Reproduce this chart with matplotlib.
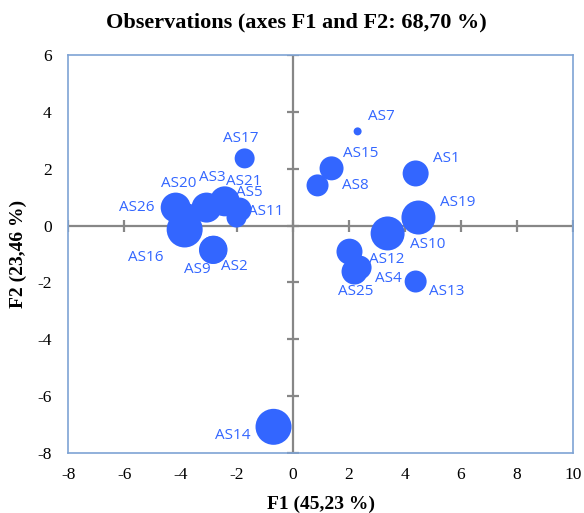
import matplotlib
matplotlib.use('Agg')
import matplotlib.pyplot as plt
import numpy as np

plt.rcParams['axes.unicode_minus'] = False

# observation coordinates on F1/F2 and bubble radius (px)
labels = ['AS1', 'AS2', 'AS3', 'AS4', 'AS5', 'AS7', 'AS8', 'AS9', 'AS10', 'AS11',
          'AS12', 'AS13', 'AS14', 'AS15', 'AS16', 'AS17', 'AS19', 'AS20', 'AS21',
          'AS25', 'AS26']
f1 = [4.39, -2.82, -3.07, 2.39, -1.89, 2.32, 0.89, -2.84, 3.39, -2.0,
      2.03, 4.39, -0.68, 1.39, -3.85, -1.71, 4.49, -3.75, -2.42, 2.21, -4.17]
f2 = [1.83, -0.85, 0.63, -1.48, 0.56, 3.31, 1.41, -0.86, -0.28, 0.28,
      -0.92, -1.97, -7.08, 2.01, -0.14, 2.36, 0.28, 0.35, 0.85, -1.62, 0.63]
radius = [13, 14, 15, 12, 12, 4, 11, 14, 17, 10,
          13, 11, 18, 12, 18, 10, 17, 12, 15, 13, 15]

# label offsets (points) relative to each bubble
offsets = {
    'AS1': (22, 11), 'AS2': (15, -12), 'AS3': (4, 22), 'AS4': (21, -8),
    'AS5': (7, 12), 'AS7': (17, 11), 'AS8': (27, 0), 'AS9': (-11, -14),
    'AS10': (29, -8), 'AS11': (21, 4), 'AS12': (27, -6), 'AS13': (22, -7),
    'AS14': (-29, -6), 'AS15': (21, 11), 'AS16': (-28, -20), 'AS17': (-3, 14),
    'AS19': (28, 11), 'AS20': (-6, 23), 'AS21': (14, 14), 'AS25': (1, -14),
    'AS26': (-28, 0),
}

xticks = np.arange(-8, 11, 2)
yticks = np.arange(-8, 7, 2)

blue = '#3366ff'
grey = '#878787'

fig = plt.figure(figsize=(5.84, 5.13), dpi=100)
ax = fig.add_axes([0.117, 0.117, 0.864, 0.776])

ax.axhline(0, color=grey, lw=1.6, zorder=1)
ax.axvline(0, color=grey, lw=1.6, zorder=1)
ax.plot(xticks, np.zeros_like(xticks), ls='none', marker='|', ms=9, mew=1.6, color=grey, zorder=1)
ax.plot(np.zeros_like(yticks), yticks, ls='none', marker='_', ms=9, mew=1.6, color=grey, zorder=1)

sizes = [(2 * r * 0.72) ** 2 for r in radius]
ax.scatter(f1, f2, s=sizes, color=blue, edgecolors='none', zorder=3)

for lab, x, y in zip(labels, f1, f2):
    dx, dy = offsets[lab]
    ax.annotate(lab, (x, y), xytext=(dx, dy), textcoords='offset points',
                ha='center', va='center', color=blue, fontsize=11,
                family='Open Sans', zorder=4)

ax.set_xlim(-8, 10)
ax.set_ylim(-8, 6)
ax.set_xticks(xticks)
ax.set_yticks(yticks)
ax.tick_params(axis='x', length=0, pad=10, labelsize=12.5)
ax.tick_params(axis='y', length=0, pad=12, labelsize=12.5)
for t in ax.get_xticklabels() + ax.get_yticklabels():
    t.set_family('Liberation Serif')
for s in ax.spines.values():
    s.set_color('#7ea3d4')
    s.set_linewidth(1.2)

ax.set_xlabel('F1 (45,23 %)', family='Liberation Serif', fontweight='bold', fontsize=14, labelpad=9)
ax.set_ylabel('F2 (23,46 %)', family='Liberation Serif', fontweight='bold', fontsize=14, labelpad=7)
fig.suptitle('Observations (axes F1 and F2: 68,70 %)', family='Liberation Serif',
             fontweight='bold', fontsize=16, x=0.507, y=0.975)

fig.savefig('out.png', dpi=100)
